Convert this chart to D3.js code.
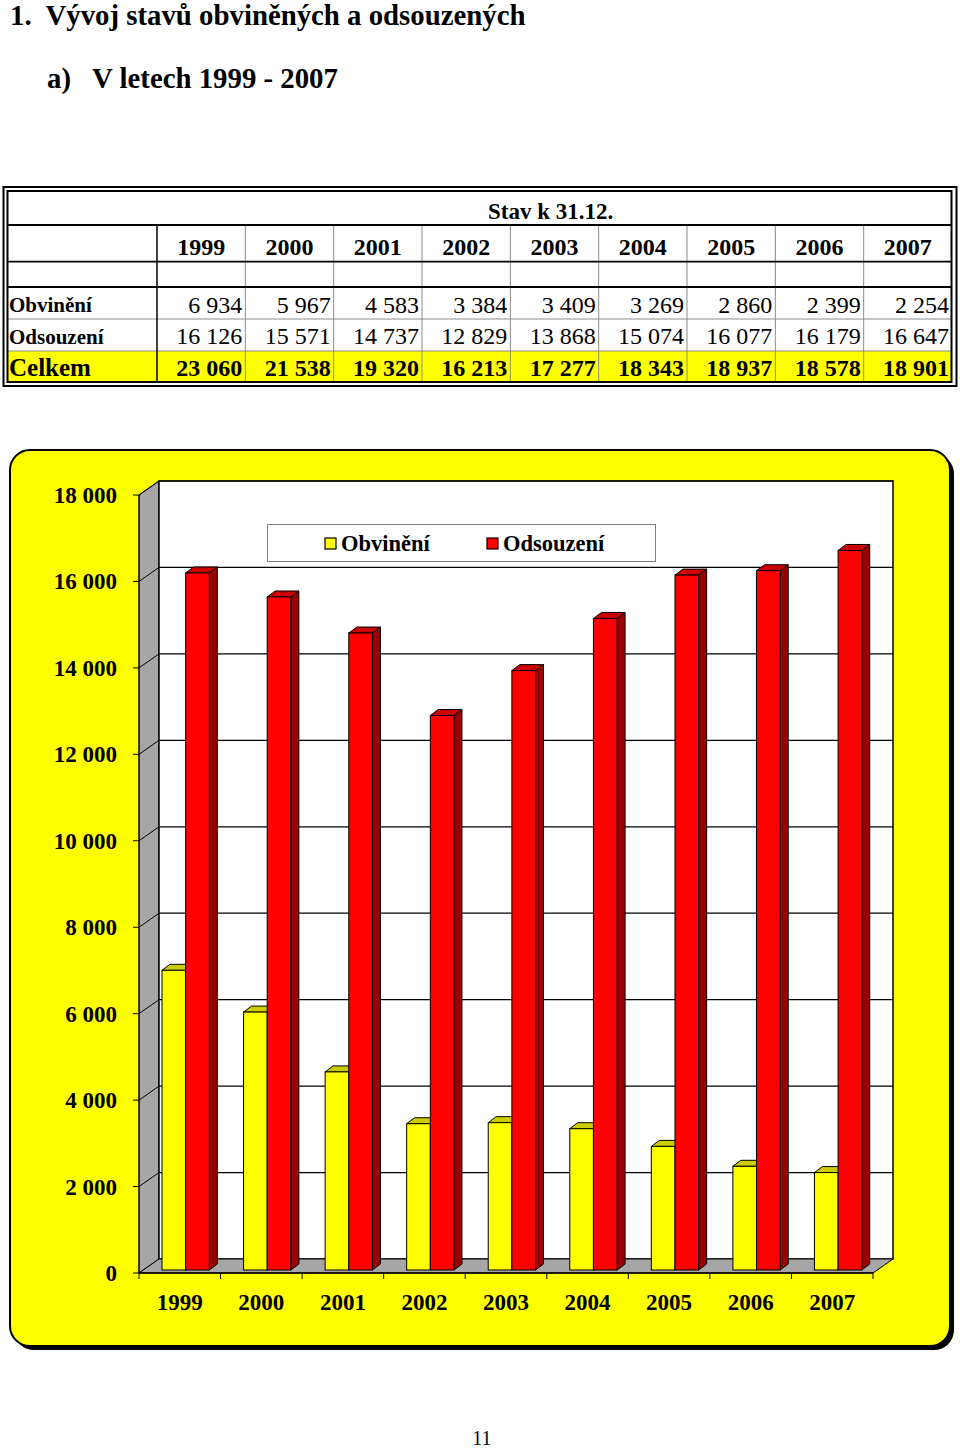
<!DOCTYPE html>
<html><head><meta charset="utf-8">
<script src="https://cdn.jsdelivr.net/npm/d3@7"></script>
<style>body{margin:0;background:#fff}svg{display:block}text{font-family:"Liberation Serif","Times New Roman",serif}</style>
</head><body>
<svg id="c" width="960" height="1451"></svg>
<script>
const years = ["1999","2000","2001","2002","2003","2004","2005","2006","2007"];
const obvineni = [6934,5967,4583,3384,3409,3269,2860,2399,2254];
const odsouzeni = [16126,15571,14737,12829,13868,15074,16077,16179,16647];
const celkem = [23060,21538,19320,16213,17277,18343,18937,18578,18901];
const seriesNames = ["Obvinění","Odsouzení"];
const yTicks = [0,2000,4000,6000,8000,10000,12000,14000,16000,18000];

const fmt = d3.formatLocale({thousands:" ",grouping:[3],decimal:",",currency:["",""]}).format(",");
const svg = d3.select("#c");

// Titles
svg.append("text").attr("x",10).attr("y",25).attr("font-size",28.8).attr("font-weight","bold")
  .attr("xml:space","preserve").text("1.  Vývoj stavů obviněných a odsouzených");
svg.append("text").attr("x",47).attr("y",88).attr("font-size",28.8).attr("font-weight","bold")
  .attr("xml:space","preserve").text("a)   V letech 1999 - 2007");

// ---------- Table ----------
const tx = d3.scaleBand().domain(years).range([157,952]);
const T = {l:7.5,r:951.5,t:191,b:382};
const tb = svg.append("g");
tb.append("rect").attr("x",T.l).attr("y",351).attr("width",T.r-T.l).attr("height",T.b-351).attr("fill","#ffff00");
years.forEach((y,i)=>{ if(i>0) tb.append("line").attr("x1",tx(y)).attr("x2",tx(y)).attr("y1",225).attr("y2",T.b).attr("stroke","#8c8c8c").attr("stroke-width",1); });
[319,351].forEach(y=>tb.append("line").attr("x1",T.l).attr("x2",T.r).attr("y1",y).attr("y2",y).attr("stroke","#8c8c8c").attr("stroke-width",1));
[225,261.7,287].forEach(y=>tb.append("line").attr("x1",T.l).attr("x2",T.r).attr("y1",y).attr("y2",y).attr("stroke","#000").attr("stroke-width",y===287?2:1.8));
tb.append("line").attr("x1",157).attr("x2",157).attr("y1",225).attr("y2",T.b).attr("stroke","#000").attr("stroke-width",1.5);
tb.append("rect").attr("x",T.l).attr("y",T.t).attr("width",T.r-T.l).attr("height",T.b-T.t).attr("fill","none").attr("stroke","#000").attr("stroke-width",2);
tb.append("rect").attr("x",3.5).attr("y",187).attr("width",953).attr("height",199).attr("fill","none").attr("stroke","#000").attr("stroke-width",2);

tb.append("text").attr("x",488).attr("y",219).attr("font-size",23).attr("font-weight","bold").text("Stav k 31.12.");
years.forEach((y,i)=>{
  const cx = tx(y)+tx.bandwidth()/2, rx = tx(y)+tx.bandwidth()-3;
  tb.append("text").attr("x",cx).attr("y",255).attr("text-anchor","middle").attr("font-size",24).attr("font-weight","bold").text(y);
  tb.append("text").attr("x",rx).attr("y",313).attr("text-anchor","end").attr("font-size",24).text(fmt(obvineni[i]));
  tb.append("text").attr("x",rx).attr("y",344).attr("text-anchor","end").attr("font-size",24).text(fmt(odsouzeni[i]));
  tb.append("text").attr("x",rx).attr("y",376).attr("text-anchor","end").attr("font-size",24).attr("font-weight","bold").text(fmt(celkem[i]));
});
tb.append("text").attr("x",9).attr("y",312).attr("font-size",21).attr("font-weight","bold").text("Obvinění");
tb.append("text").attr("x",9).attr("y",344).attr("font-size",21).attr("font-weight","bold").text("Odsouzení");
tb.append("text").attr("x",9).attr("y",376).attr("font-size",25).attr("font-weight","bold").text("Celkem");

// ---------- Chart panel ----------
svg.append("rect").attr("x",14).attr("y",454).attr("width",940).attr("height",896).attr("rx",20).attr("fill","#000");
svg.append("rect").attr("x",10).attr("y",450).attr("width",940).attr("height",896).attr("rx",20).attr("fill","#ffff00").attr("stroke","#000").attr("stroke-width",2);

const x = d3.scaleBand().domain(years).range([139,873]);
const y = d3.scaleLinear().domain([0,18000]).range([1273,495]);
const DX = 20, DY = -14;
const g = svg.append("g");
const pts = a => a.map(p=>p.join(",")).join(" ");
const X0 = 139, X1 = 873;
g.append("polygon").attr("points",pts([[X0,y(18000)],[X0+DX,y(18000)+DY],[X0+DX,y(0)+DY],[X0,y(0)]])).attr("fill","#a6a6a6").attr("stroke","#000").attr("stroke-width",1);
g.append("rect").attr("x",X0+DX).attr("y",y(18000)+DY).attr("width",X1-X0).attr("height",y(0)-y(18000)).attr("fill","#fff").attr("stroke","#000").attr("stroke-width",1.5);
g.append("polygon").attr("points",pts([[X0,y(0)],[X0+DX,y(0)+DY],[X1+DX,y(0)+DY],[X1,y(0)]])).attr("fill","#a6a6a6").attr("stroke","#000").attr("stroke-width",1);
yTicks.forEach(v=>{
  if(v===0) return;
  g.append("line").attr("x1",X0+DX).attr("x2",X1+DX).attr("y1",y(v)+DY).attr("y2",y(v)+DY).attr("stroke","#000").attr("stroke-width",1.2);
  g.append("line").attr("x1",X0).attr("x2",X0+DX).attr("y1",y(v)).attr("y2",y(v)+DY).attr("stroke","#000").attr("stroke-width",1);
});
g.append("line").attr("x1",X0).attr("x2",X0).attr("y1",y(18000)).attr("y2",y(0)).attr("stroke","#000").attr("stroke-width",1);
g.append("line").attr("x1",X0).attr("x2",X1).attr("y1",y(0)).attr("y2",y(0)).attr("stroke","#000").attr("stroke-width",1.5);
yTicks.forEach(v=>{
  g.append("line").attr("x1",X0-6).attr("x2",X0).attr("y1",y(v)).attr("y2",y(v)).attr("stroke","#000");
  g.append("text").attr("x",117).attr("y",y(v)).attr("dy","0.35em").attr("text-anchor","end").attr("font-size",23).attr("font-weight","bold").text(fmt(v));
});
years.concat(["end"]).forEach((yr,i)=>{
  const xx = i<years.length ? x(yr) : X1;
  g.append("line").attr("x1",xx).attr("x2",xx).attr("y1",y(0)).attr("y2",y(0)+6).attr("stroke","#000");
});
years.forEach(yr=>{
  g.append("text").attr("x",x(yr)+x.bandwidth()/2).attr("y",1310).attr("text-anchor","middle").attr("font-size",23).attr("font-weight","bold").text(yr);
});

const bw = x.bandwidth();
const off = bw*0.233, w = bw*0.29;
const fdx = 4, fdy = -3, bdx = 8, bdy = -6;
const colors = [{f:"#ffff00",t:"#cccc00",s:"#999900"},{f:"#ff0000",t:"#cc0000",s:"#990000"}];
const bars = g.append("g");
years.forEach((yr,i)=>{
  [obvineni[i],odsouzeni[i]].forEach((v,s)=>{
    const x0 = x(yr)+off+s*w+fdx, x1 = x0+w;
    const yb = y(0)+fdy, yt = y(v)+fdy;
    const c = colors[s];
    bars.append("polygon").attr("points",pts([[x1,yt],[x1+bdx,yt+bdy],[x1+bdx,yb+bdy],[x1,yb]])).attr("fill",c.s).attr("stroke","#000").attr("stroke-width",1);
    bars.append("polygon").attr("points",pts([[x0,yt],[x0+bdx,yt+bdy],[x1+bdx,yt+bdy],[x1,yt]])).attr("fill",c.t).attr("stroke","#000").attr("stroke-width",1);
    bars.append("rect").attr("x",x0).attr("y",yt).attr("width",w).attr("height",yb-yt).attr("fill",c.f).attr("stroke","#000").attr("stroke-width",1);
  });
});

const lg = svg.append("g");
lg.append("rect").attr("x",267.5).attr("y",524.5).attr("width",388).attr("height",37).attr("fill","#fff").attr("stroke","#808080").attr("stroke-width",1);
const legX = [325,487];
seriesNames.forEach((n,i)=>{
  lg.append("rect").attr("x",legX[i]).attr("y",538).attr("width",11).attr("height",11).attr("fill",colors[i].f).attr("stroke","#000").attr("stroke-width",1.2);
  lg.append("text").attr("x",legX[i]+16).attr("y",551).attr("font-size",22.5).attr("font-weight","bold").text(n);
});

svg.append("text").attr("x",482).attr("y",1445).attr("text-anchor","middle").attr("font-size",20).text("11");
</script>
</body></html>
